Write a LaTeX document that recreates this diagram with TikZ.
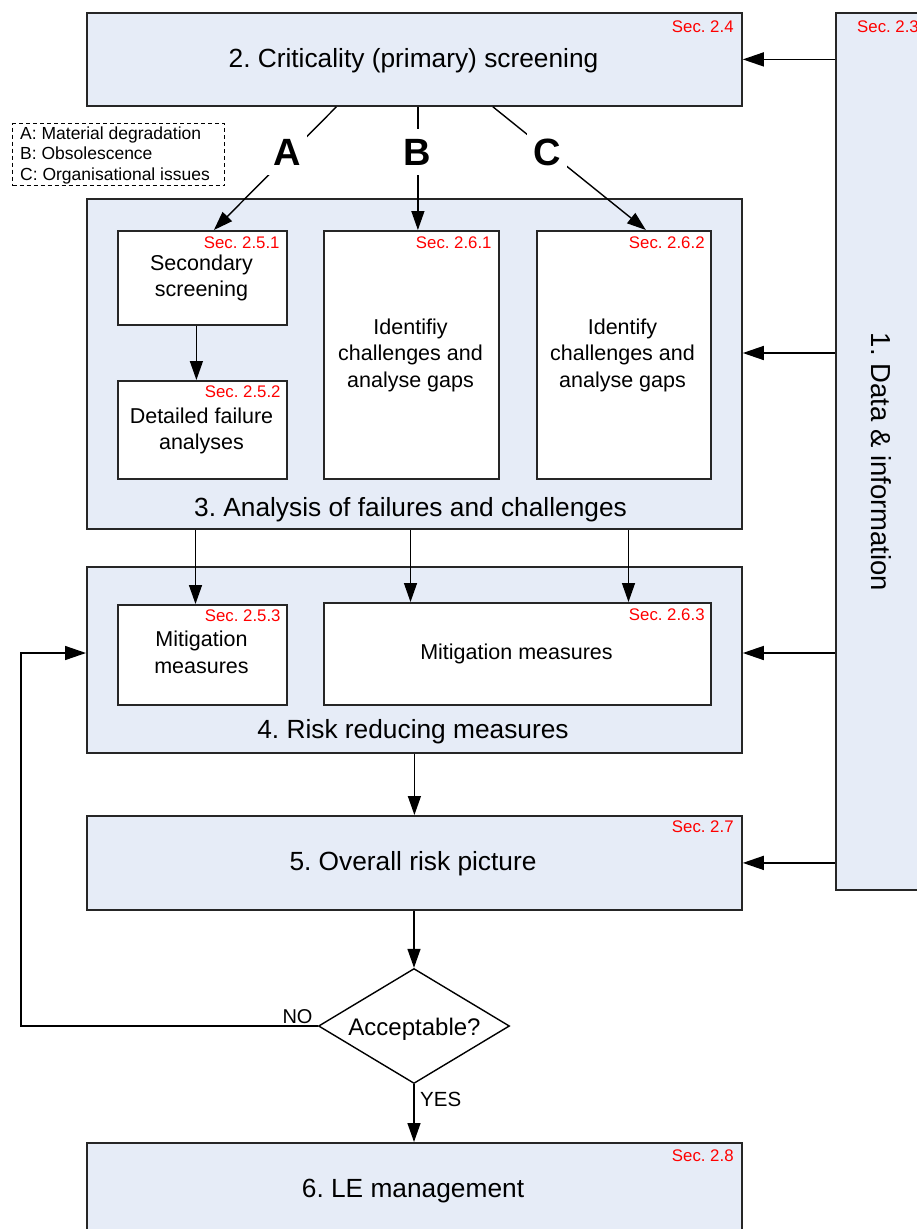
\documentclass[tikz,border=0pt]{standalone}
\usepackage{fontspec}
\setmainfont{Liberation Sans}
\usetikzlibrary{arrows.meta,shapes.geometric}
\definecolor{boxfill}{RGB}{230,236,247}
\definecolor{secred}{RGB}{255,0,0}
\definecolor{edgecol}{RGB}{38,38,38}
\newcommand\mainfs{\fontsize{26.3pt}{31pt}\selectfont}
\newcommand\subfs{\fontsize{21.5pt}{26.5pt}\selectfont}
\newcommand\secfs{\fontsize{16.8pt}{20pt}\selectfont}
\newcommand\legfs{\fontsize{17.5pt}{21pt}\selectfont}
\newcommand\letfs{\fontsize{38pt}{46pt}\selectfont\bfseries}
\frenchspacing
\begin{document}
\begin{tikzpicture}[x=1pt,y=-1pt,
  bigbox/.style={draw=edgecol,line width=1.8pt,fill=boxfill,rectangle,inner sep=0pt,anchor=north west},
  subbox/.style={draw=edgecol,line width=1.8pt,fill=white,rectangle,inner sep=0pt,anchor=north west},
  lbl/.style={inner sep=0pt,anchor=base},
  sec/.style={inner sep=0pt,anchor=base east,text=secred,font=\secfs},
  letter/.style={fill=white,inner sep=0pt,minimum width=40pt,minimum height=46pt,font=\letfs},
  conn/.style={draw=black,line width=1.4pt,-{Triangle[length=19pt,width=13pt]}},
  feed/.style={draw=black,line width=1.5pt,-{Triangle[length=21pt,width=14pt]}},
]
\clip (0,0) rectangle (917,1229);
\fill[white] (0,0) rectangle (917,1229);

% main stages
\node[bigbox,minimum width=88pt,minimum height=877pt] (b1) at (835,12) {};
\node[bigbox,minimum width=655pt,minimum height=93pt] (b2) at (86,12) {};
\node[bigbox,minimum width=655pt,minimum height=330pt] (b3) at (86,198) {};
\node[bigbox,minimum width=655pt,minimum height=186pt] (b4) at (86,566) {};
\node[bigbox,minimum width=655pt,minimum height=94pt] (b5) at (86,815) {};
\node[bigbox,minimum width=655pt,minimum height=110pt] (b6) at (86,1142) {};

% inner boxes of stage 3
\node[subbox,minimum width=169pt,minimum height=94pt] (ss) at (117,230) {};
\node[subbox,minimum width=169pt,minimum height=98pt] (dfa) at (117,380) {};
\node[subbox,minimum width=175pt,minimum height=248pt] (ic1) at (323,230) {};
\node[subbox,minimum width=174pt,minimum height=248pt] (ic2) at (536,230) {};
% inner boxes of stage 4
\node[subbox,minimum width=169pt,minimum height=100pt] (mm1) at (117,604) {};
\node[subbox,minimum width=387pt,minimum height=102pt] (mm2) at (323,602) {};

% decision
\node[diamond,draw=black,line width=1.4pt,fill=white,aspect=1.66,minimum width=191pt,minimum height=115pt,inner sep=0pt] (dec) at (414,1026) {};

% legend
\node[draw=black,line width=1pt,dash pattern=on 4pt off 3pt,rectangle,inner sep=0pt,anchor=north west,minimum width=212pt,minimum height=62pt] (leg) at (12,123) {};
\node[inner sep=0pt,anchor=base west,font=\legfs] (legA) at (20,139) {A: Material degradation};
\node[inner sep=0pt,anchor=base west,font=\legfs] (legB) at (20,159.5) {B: Obsolescence};
\node[inner sep=0pt,anchor=base west,font=\legfs] (legC) at (20,180) {C: Organisational issues};

% texts of the stages
\node[lbl,font=\mainfs] (t2) at (413.5,67) {2. Criticality (primary) screening};
\node[lbl,font=\mainfs] (t3) at (410.5,516.5) {3. Analysis of failures and challenges};
\node[lbl,font=\mainfs] (t4) at (413,738) {4. Risk reducing measures};
\node[lbl,font=\mainfs] (t5) at (413,870) {5. Overall risk picture};
\node[lbl,font=\mainfs] (t6) at (413,1197) {6. LE management};
\node[lbl,font=\fontsize{27.5pt}{33pt}\selectfont,rotate=-90] (t1) at (871.5,462) {1. Data \& information};

% multi-line labels: the anchor sits on the last line's baseline
\node[lbl,font=\subfs,align=center] (tss) at (201.5,296.5) {Secondary\\screening};
\node[lbl,font=\subfs,align=center] (tdfa) at (201.5,449.5) {Detailed failure\\analyses};
\node[lbl,font=\subfs,align=center] (tic1) at (410.5,387) {Identifiy\\challenges and\\analyse gaps};
\node[lbl,font=\subfs,align=center] (tic2) at (622.5,387) {Identify\\challenges and\\analyse gaps};
\node[lbl,font=\subfs,align=center] (tmm1) at (201.5,673) {Mitigation\\measures};
\node[lbl,font=\subfs] (tmm2) at (516.5,659) {Mitigation measures};
\node[lbl,font=\fontsize{24pt}{29pt}\selectfont] (tdec) at (414.5,1035) {Acceptable?};

% section references
\node[sec] (s24) at ([xshift=-9pt,yshift=-20pt]b2.north east) {Sec. 2.4};
\node[sec,anchor=base west] (s23) at (857,32) {Sec. 2.3};
\node[sec] (s251) at ([xshift=-8pt,yshift=-18pt]ss.north east) {Sec. 2.5.1};
\node[sec] (s252) at ([xshift=-7pt,yshift=-17pt]dfa.north east) {Sec. 2.5.2};
\node[sec] (s261) at ([xshift=-8pt,yshift=-18pt]ic1.north east) {Sec. 2.6.1};
\node[sec] (s262) at ([xshift=-7pt,yshift=-18pt]ic2.north east) {Sec. 2.6.2};
\node[sec] (s253) at ([xshift=-7pt,yshift=-17.5pt]mm1.north east) {Sec. 2.5.3};
\node[sec] (s263) at ([xshift=-7pt,yshift=-18pt]mm2.north east) {Sec. 2.6.3};
\node[sec] (s27) at ([xshift=-9pt,yshift=-17pt]b5.north east) {Sec. 2.7};
\node[sec] (s28) at ([xshift=-9pt,yshift=-19.5pt]b6.north east) {Sec. 2.8};

% screening branches A, B, C
\draw[conn] ([xshift=-78pt]b2.south) -- ([xshift=11.5pt]ss.north);
\draw[conn] ([xshift=3.5pt]b2.south) -- ([xshift=6.5pt]ic1.north);
\draw[conn] ([xshift=78.5pt]b2.south) -- ([xshift=22pt]ic2.north);
\node[letter] (lA) at (287,152) {A};
\node[letter] (lB) at (417,152) {B};
\node[letter] (lC) at (547,152) {C};

% flow inside and between stages
\draw[conn] ([xshift=-6pt]ss.south) -- ([xshift=-6pt]dfa.north);
\draw[conn] (b3.south -| 195.5,0) -- (mm1.north -| 195.5,0);
\draw[conn] (b3.south -| 410.5,0) -- (mm2.north -| 410.5,0);
\draw[conn] (b3.south -| 628.5,0) -- (mm2.north -| 628.5,0);
\draw[conn] (b4.south) -- (b5.north);
\draw[conn] (b5.south -| dec.north) -- (dec.north);
\draw[conn] (dec.south) -- (b6.north -| dec.south);

% data & information feeds
\draw[feed] (b1.west |- b2.east) -- (b2.east);
\draw[feed] (b1.west |- 0,353) -- (b3.east |- 0,353);
\draw[feed] (b1.west |- 0,653) -- (b4.east |- 0,653);
\draw[feed] (b1.west |- b5.east) -- (b5.east);

% rejection loop
\draw[feed] (dec.west) -- (21,1026) |- (b4.west |- 0,653);
\node[inner sep=0pt,anchor=base,font=\fontsize{20pt}{24pt}\selectfont] (no) at (297.5,1023.5) {NO};
\node[inner sep=0pt,anchor=base west,font=\fontsize{20.5pt}{24pt}\selectfont] (yes) at (420,1106.5) {YES};
\end{tikzpicture}
\end{document}
